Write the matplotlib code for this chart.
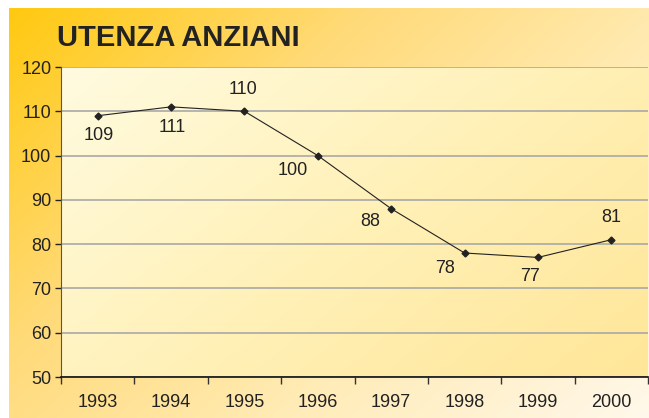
import numpy as np
import matplotlib.pyplot as plt
from matplotlib.colors import LinearSegmentedColormap

plt.rcParams['font.family'] = ['Liberation Sans', 'DejaVu Sans']

anni = ["1993", "1994", "1995", "1996", "1997", "1998", "1999", "2000"]
utenti = [109, 111, 110, 100, 88, 78, 77, 81]
# scostamento etichette (punti) rispetto al marcatore
label_dx = [1, 1, -1, -18, -15, -14, -6, 0]
label_dy = [-14, -15, 16, -11, -9, -11, -14, 16]

fig = plt.figure(figsize=(6.49, 4.18), dpi=100)

# sfondo esterno con gradiente diagonale
bg = fig.add_axes([9 / 649, 0, 640 / 649, 410 / 418], zorder=0)
yy, xx = np.mgrid[0:1:200j, 0:1:300j]
t = (xx * 0.6 + yy * 0.4)
outer_cmap = LinearSegmentedColormap.from_list(
    "outer", ["#ffc910", "#ffda78", "#ffecb8", "#fff8ea"])
bg.imshow(t, cmap=outer_cmap, aspect="auto", extent=[0, 1, 0, 1], origin="upper")
bg.axis("off")

ax = fig.add_axes([61 / 649, (418 - 377) / 418, 587 / 649, 310 / 418], zorder=1)
ax.patch.set_alpha(0)
inner_cmap = LinearSegmentedColormap.from_list(
    "inner", ["#fffbe0", "#fff1b8", "#ffe698"])
ax.imshow(t, cmap=inner_cmap, aspect="auto", extent=[0, 1, 0, 1],
          transform=ax.transAxes, origin="upper", zorder=0)

x = np.arange(len(anni))
ax.plot(x, utenti, color="#222222", lw=0.8, marker="D", ms=3.5,
        mfc="#222222", mec="#222222", zorder=3)

for xi, v, dx, dy in zip(x, utenti, label_dx, label_dy):
    ax.annotate(str(v), (xi, v), xytext=(dx, dy), textcoords="offset points",
                ha="center", va="center", fontsize=13, color="#222222")

ax.set_xlim(-0.5, len(anni) - 0.5)
ax.set_ylim(50, 120)
ax.set_yticks(range(50, 121, 10))
ax.set_xticks(x)
ax.set_xticklabels(anni)
ax.set_xticks(np.arange(-0.5, len(anni)), minor=True)
ax.tick_params(axis="x", which="major", length=0, pad=12, labelsize=13, colors="#222222")
ax.tick_params(axis="x", which="minor", length=5, width=1, color="#333333")
ax.tick_params(axis="y", length=4, width=1, labelsize=13, colors="#222222", pad=3)
ax.grid(axis="y", color="#a8a8a8", lw=1.2, zorder=1)
ax.set_axisbelow(True)
for s in ["top", "right"]:
    ax.spines[s].set_visible(False)
ax.spines["left"].set_color("#555555")
ax.spines["bottom"].set_color("#111111")
ax.spines["bottom"].set_linewidth(1.2)

fig.text(57 / 649, 1 - 38 / 418, "UTENZA ANZIANI", fontsize=21, fontweight="bold",
         color="#222222", ha="left", va="center")

fig.savefig("out.png", dpi=100)
